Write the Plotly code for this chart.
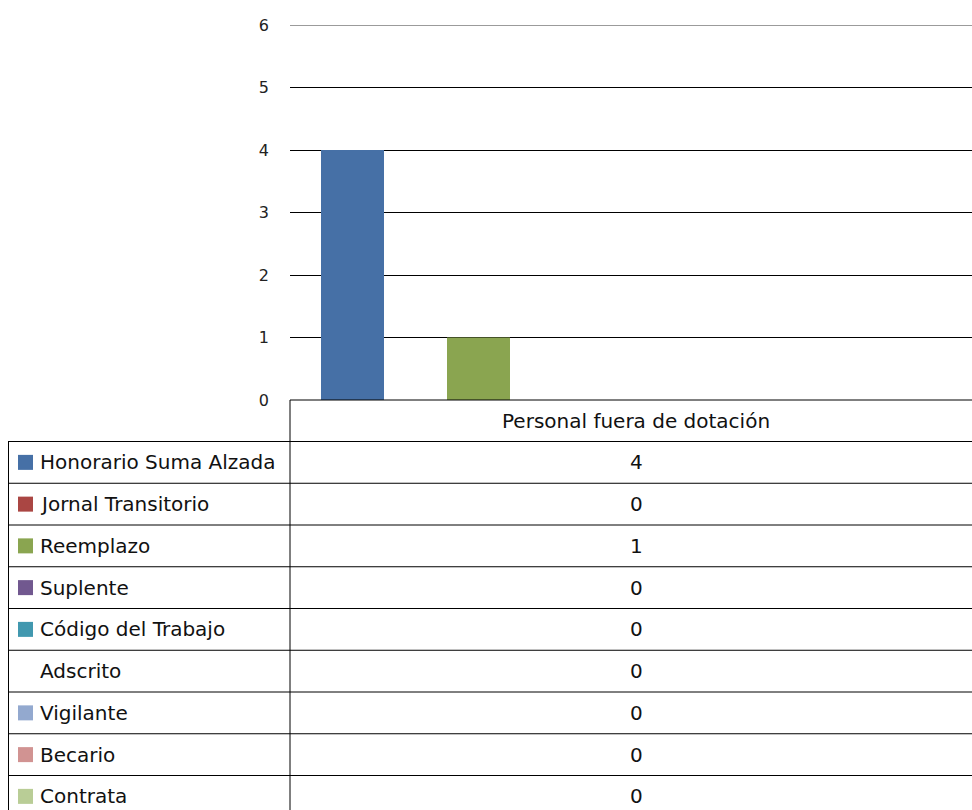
import plotly.graph_objects as go

categories = ["Personal fuera de dotación"]
series_names = ["Honorario Suma Alzada", "Jornal Transitorio", "Reemplazo", "Suplente",
                "Código del Trabajo", "Adscrito", "Vigilante", "Becario", "Contrata"]
series_values = [4, 0, 1, 0, 0, 0, 0, 0, 0]
series_colors = ["#4670A6", "#AA4643", "#8AA550", "#71588F", "#4198AF", None,
                 "#93A9CF", "#D19392", "#B9CD96"]
y_ticks = [0, 1, 2, 3, 4, 5, 6]

W, H = 972, 810
L, T = 290, 25
PB = 400                # plot bottom in pixels
R, B = 0, H - PB
PW = W - L - R
PH = PB - T
FONT = "DejaVu Sans"

def px_x(px):
    return (px - L) / PW

def px_y(py):
    return (PB - py) / PH

fig = go.Figure()
for name, val, col in zip(series_names, series_values, series_colors):
    fig.add_trace(go.Bar(
        x=[0], y=[val], name=name,
        marker=dict(color=col if col else "rgba(0,0,0,0)", line=dict(width=0)),
        showlegend=False,
    ))

shapes = []
annotations = []
line = dict(color="black", width=1)

# top gridline (plotly omits the gridline at the range edge)
shapes.append(dict(type="line", xref="paper", yref="y", x0=0, x1=1,
                   y0=max(y_ticks), y1=max(y_ticks), line=dict(color="#7a7a7a", width=1.5)))

# Table vertical lines
shapes.append(dict(type="line", xref="paper", yref="paper",
                   x0=px_x(290), x1=px_x(290), y0=px_y(400), y1=px_y(812), line=line))
shapes.append(dict(type="line", xref="paper", yref="paper",
                   x0=px_x(8.5), x1=px_x(8.5), y0=px_y(441), y1=px_y(812), line=line))
# Header top line
shapes.append(dict(type="line", xref="paper", yref="paper",
                   x0=px_x(290), x1=1, y0=px_y(400), y1=px_y(400), line=line))

row_top0 = 441.5
row_h = 41.75
for i, (name, val, col) in enumerate(zip(series_names, series_values, series_colors)):
    top = row_top0 + i * row_h
    cy = top + row_h / 2
    shapes.append(dict(type="line", xref="paper", yref="paper",
                       x0=px_x(8), x1=1, y0=px_y(top), y1=px_y(top), line=line))
    if col:
        shapes.append(dict(type="rect", xref="paper", yref="paper",
                           x0=px_x(18), x1=px_x(33), y0=px_y(cy - 7.5), y1=px_y(cy + 7.5),
                           fillcolor=col, line=dict(width=0)))
    annotations.append(dict(xref="paper", yref="paper", x=px_x(38), y=px_y(cy),
                            xanchor="left", yanchor="middle", showarrow=False,
                            text=name, font=dict(family=FONT, size=20, color="#111")))
    annotations.append(dict(xref="paper", yref="paper", x=px_x(636), y=px_y(cy),
                            xanchor="center", yanchor="middle", showarrow=False,
                            text=str(val), font=dict(family=FONT, size=20, color="#111")))

annotations.append(dict(xref="paper", yref="paper", x=px_x(636), y=px_y(421),
                        xanchor="center", yanchor="middle", showarrow=False,
                        text=categories[0], font=dict(family=FONT, size=20, color="#111")))

# x range: 9 bars of ~63px starting at px 321
g = 0.1
U = 63 * len(series_names) / (1 - g)
x0 = -(1 - g) / 2 - (321 - 290) / U
x1 = x0 + PW / U

fig.update_layout(
    width=W, height=H,
    margin=dict(l=L, r=R, t=T, b=B, pad=0),
    paper_bgcolor="white", plot_bgcolor="white",
    barmode="group", bargap=g, bargroupgap=0,
    xaxis=dict(range=[x0, x1], showticklabels=False, showgrid=False, zeroline=False,
               showline=False, fixedrange=True),
    yaxis=dict(range=[0, 6], tickvals=y_ticks, ticktext=[str(v) for v in y_ticks],
               showgrid=True, gridcolor="black", gridwidth=1, zeroline=False,
               showline=False, ticks="", ticklabelstandoff=20,
               tickfont=dict(family=FONT, size=16, color="#222")),
    shapes=shapes, annotations=annotations,
    font=dict(family=FONT),
)

fig.write_html("out.html", config={"displayModeBar": False},
               post_script="document.body.style.margin='0';document.body.style.overflow='hidden';")
